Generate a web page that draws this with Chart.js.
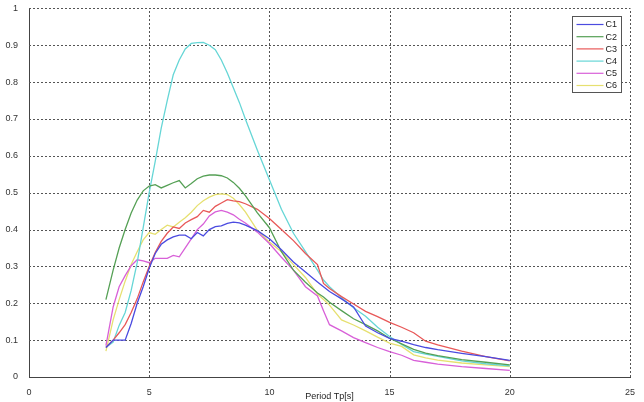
<!DOCTYPE html>
<html>
<head>
<meta charset="utf-8">
<script src="https://cdn.jsdelivr.net/npm/chart.js@4.4.1/dist/chart.umd.min.js"></script>
<style>
  html, body { margin: 0; padding: 0; background: #fff; }
  #wrap { width: 644px; height: 402px; }
</style>
</head>
<body>
<div id="wrap"><canvas id="Chart" width="644" height="402"></canvas></div>
<script>
// period axis (s)
const periods = [3.2, 3.5, 3.75, 4, 4.25, 4.5, 4.75, 5, 5.25, 5.5, 5.75, 6, 6.25, 6.5, 6.75, 7, 7.25, 7.5, 7.75, 8, 8.25, 8.5, 8.75, 9, 9.5, 10, 10.5, 11, 11.5, 12, 12.25, 12.5, 13, 13.5, 14, 14.5, 15, 15.5, 16, 16.5, 17, 18, 19, 20]

const c1 = [0.08, 0.10, 0.10, 0.10, 0.145, 0.20, 0.245, 0.295, 0.335, 0.36, 0.372, 0.38, 0.385, 0.385, 0.375, 0.392, 0.383, 0.40, 0.408, 0.41, 0.417, 0.42, 0.418, 0.412, 0.397, 0.375, 0.345, 0.312, 0.285, 0.258, 0.245, 0.232, 0.212, 0.19, 0.138, 0.12, 0.105, 0.097, 0.088, 0.08, 0.074, 0.064, 0.055, 0.045]
const c2 = [0.21, 0.29, 0.35, 0.40, 0.445, 0.48, 0.505, 0.518, 0.522, 0.513, 0.52, 0.527, 0.533, 0.513, 0.525, 0.538, 0.545, 0.548, 0.548, 0.546, 0.54, 0.528, 0.512, 0.492, 0.445, 0.405, 0.34, 0.29, 0.257, 0.228, 0.217, 0.203, 0.18, 0.158, 0.142, 0.125, 0.105, 0.09, 0.075, 0.065, 0.058, 0.047, 0.04, 0.033]
const c3 = [0.08, 0.10, 0.12, 0.142, 0.175, 0.212, 0.258, 0.30, 0.338, 0.368, 0.39, 0.407, 0.403, 0.418, 0.427, 0.435, 0.452, 0.447, 0.463, 0.472, 0.481, 0.478, 0.476, 0.47, 0.455, 0.43, 0.40, 0.37, 0.335, 0.305, 0.254, 0.24, 0.218, 0.198, 0.178, 0.164, 0.148, 0.135, 0.12, 0.097, 0.087, 0.07, 0.055, 0.044]
const c4 = [0.08, 0.095, 0.14, 0.175, 0.235, 0.31, 0.405, 0.50, 0.585, 0.675, 0.75, 0.82, 0.86, 0.89, 0.905, 0.907, 0.908, 0.90, 0.888, 0.86, 0.825, 0.785, 0.745, 0.70, 0.615, 0.535, 0.455, 0.39, 0.34, 0.29, 0.263, 0.245, 0.215, 0.188, 0.165, 0.135, 0.11, 0.088, 0.069, 0.062, 0.056, 0.044, 0.036, 0.03]
const c5 = [0.085, 0.19, 0.245, 0.275, 0.302, 0.318, 0.315, 0.31, 0.322, 0.322, 0.322, 0.33, 0.326, 0.35, 0.375, 0.40, 0.415, 0.437, 0.448, 0.452, 0.447, 0.44, 0.428, 0.418, 0.393, 0.362, 0.325, 0.29, 0.245, 0.22, 0.18, 0.142, 0.125, 0.107, 0.093, 0.08, 0.069, 0.059, 0.045, 0.04, 0.035, 0.028, 0.023, 0.018]
const c6 = [0.07, 0.155, 0.21, 0.26, 0.305, 0.34, 0.372, 0.392, 0.387, 0.40, 0.412, 0.407, 0.42, 0.432, 0.447, 0.465, 0.478, 0.488, 0.495, 0.497, 0.495, 0.485, 0.468, 0.448, 0.398, 0.366, 0.34, 0.305, 0.27, 0.225, 0.21, 0.195, 0.155, 0.141, 0.125, 0.108, 0.092, 0.083, 0.06, 0.052, 0.046, 0.038, 0.033, 0.028]

const seriesNames = ['C1', 'C2', 'C3', 'C4', 'C5', 'C6']
const seriesData = [c1, c2, c3, c4, c5, c6]
const seriesColors = ['#4b4be0', '#55a055', '#e85858', '#66d6d6', '#d860d8', '#e6e070']

const xTicks = [0, 5, 10, 15, 20, 25]
const yTicks = [0, 0.1, 0.2, 0.3, 0.4, 0.5, 0.6, 0.7, 0.8, 0.9, 1]
const xTitle = 'Period Tp[s]'

const FONT = 'Arial, "Liberation Sans", sans-serif'

// dotted grid, matlab style (skip 0, the axes are solid there)
const dottedGrid = {
    id: 'dottedGrid',
    beforeDatasetsDraw(chart) {
        const c = chart.ctx
        const area = chart.chartArea
        const xs = chart.scales.x, ys = chart.scales.y
        c.save()
        c.strokeStyle = '#555'
        c.lineWidth = 1
        c.setLineDash([2, 2])
        xTicks.forEach(v => {
            if (v === 0) return
            const px = Math.round(xs.getPixelForValue(v)) + 0.5
            c.beginPath()
            c.moveTo(px, area.bottom)
            c.lineTo(px, area.top)
            c.stroke()
        })
        yTicks.forEach(v => {
            if (v === 0) return
            const py = Math.round(ys.getPixelForValue(v)) + 0.5
            c.beginPath()
            c.moveTo(area.left, py)
            c.lineTo(area.right, py)
            c.stroke()
        })
        c.restore()
    }
}

// legend box drawn inside the plot, top right (like matlab)
const boxLegend = {
    id: 'boxLegend',
    afterDraw(chart) {
        const c = chart.ctx
        const area = chart.chartArea
        const w = 49, rowH = 12.2
        const h = 76
        const x0 = Math.round(area.right - 9 - w) + 0.5
        const y0 = Math.round(area.top + 8) + 0.5
        c.save()
        c.fillStyle = '#fff'
        c.fillRect(x0, y0, w, h)
        c.strokeStyle = '#555'
        c.lineWidth = 1
        c.strokeRect(x0, y0, w, h)
        c.font = '9px ' + FONT
        c.textBaseline = 'middle'
        c.textAlign = 'left'
        chart.data.datasets.forEach((ds, i) => {
            const yy = y0 + 8 + i * rowH
            c.strokeStyle = ds.borderColor
            c.lineWidth = 1.2
            c.beginPath()
            c.moveTo(x0 + 4, yy)
            c.lineTo(x0 + 31, yy)
            c.stroke()
            c.fillStyle = '#222'
            c.fillText(ds.label, x0 + 33, yy + 0.5)
        })
        c.restore()
    }
}

const ctx = document.getElementById('Chart').getContext('2d')
let myChart = new Chart(ctx, {
    type: 'line',
    data: {
        datasets: seriesNames.map((name, i) => ({
            label: name,
            data: periods.map((p, j) => ({ x: p, y: seriesData[i][j] })),
            borderColor: seriesColors[i],
            backgroundColor: seriesColors[i],
            borderWidth: 1.3,
            pointRadius: 0,
            tension: 0,
            fill: false
        }))
    },
    options: {
        responsive: false,
        animation: false,
        events: [],
        layout: { padding: { left: 0, right: 14, top: 7, bottom: 0 } },
        plugins: {
            legend: { display: false },
            tooltip: { enabled: false }
        },
        scales: {
            x: {
                type: 'linear',
                min: 0,
                max: 25,
                afterBuildTicks: (scale) => { scale.ticks = xTicks.map(v => ({ value: v })) },
                afterFit: (scale) => { scale.height = 25 },
                ticks: {
                    font: { family: FONT, size: 9 },
                    color: '#333',
                    padding: 2,
                    maxRotation: 0
                },
                grid: { display: false },
                border: { display: true, color: '#444', width: 1 },
                title: {
                    display: true,
                    text: xTitle,
                    font: { family: FONT, size: 9 },
                    color: '#222',
                    padding: 0
                }
            },
            y: {
                type: 'linear',
                min: 0,
                max: 1,
                afterBuildTicks: (scale) => { scale.ticks = yTicks.map(v => ({ value: v })) },
                afterFit: (scale) => { scale.width = 29 },
                ticks: {
                    font: { family: FONT, size: 9 },
                    color: '#333',
                    padding: 3,
                    callback: (v) => String(Math.round(v * 10) / 10)
                },
                grid: { display: false },
                border: { display: true, color: '#444', width: 1 }
            }
        }
    },
    plugins: [dottedGrid, boxLegend]
})
</script>
</body>
</html>
